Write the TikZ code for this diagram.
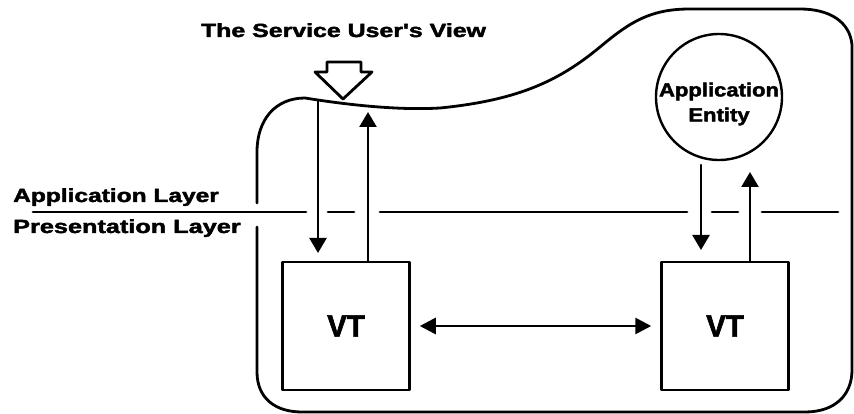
\documentclass[tikz,border=0pt]{standalone}
\usepackage{graphicx}
\usepackage{fontspec}
\setmainfont{Liberation Sans}
\newfontfamily\heavyfont[BoldFeatures={FakeBold=2}]{Liberation Sans}
\usetikzlibrary{arrows.meta}
\begin{document}
\begin{tikzpicture}[x=1pt,y=-1pt,line cap=round,line join=round,
  ink/.style={line width=2.8pt,black},
  vtbox/.style={draw,line width=2.5pt,minimum width=127pt,minimum height=128pt,inner sep=0pt,
    font=\heavyfont\bfseries\fontsize{31}{31}\selectfont},
  flow/.style={line width=2.4pt,-{Triangle[length=15pt,width=17pt]}},
  twoway/.style={line width=2.8pt,{Triangle[length=16pt,width=16pt]}-{Triangle[length=16pt,width=16pt]}},
  lbl/.style={font=\heavyfont\bfseries\fontsize{19}{19}\selectfont,inner sep=0pt},
  entity/.style={draw,circle,line width=2.4pt,minimum size=126pt,inner sep=0pt}]
\useasboundingbox (0,0) rectangle (854,414);

% boundary of the service user's view
\draw[ink] (257,227) -- (257,372) .. controls (257,398) and (275,412) .. (302,412)
  -- (805,412) .. controls (835,412) and (852,395) .. (852,370)
  -- (852,45) .. controls (850,22) and (830,9) .. (800,9)
  -- (690,9) .. controls (650,9) and (630,22) .. (600,47)
  .. controls (560,80) and (520,100) .. (440,108)
  .. controls (390,111) and (330,102) .. (305,98)
  .. controls (275,98) and (257,120) .. (257,152) -- (257,203);

% title and hollow arrow
\node[lbl,anchor=base] (title) at (343.5,37) {\scalebox{1.31}[1]{The Service User's View}};
\draw[line width=2.8pt,fill=white] (327,62) -- (361,62) -- (361,72) -- (372,72)
  -- (343,99) -- (315,72) -- (327,72) -- cycle;

% layer line and labels
\node[lbl,anchor=base west] (applayer) at (13,202) {\scalebox{1.29}[1]{Application Layer}};
\node[lbl,anchor=base west] (preslayer) at (13,233) {\scalebox{1.33}[1]{Presentation Layer}};
\draw[ink] (33,212) -- (306,212);
\draw[ink] (328,212) -- (354,212);
\draw[ink] (380,212) -- (687,212);
\draw[ink] (712,212) -- (738,212);
\draw[ink] (762,212) -- (838,212);

% nodes
\node[vtbox] (leftvt) at (346,326) {\scalebox{0.95}[1]{VT}};
\node[vtbox] (rightvt) at (725,326) {\scalebox{0.95}[1]{VT}};
\node[entity] (ae) at (719,97) {};
\node[lbl,align=center,font=\heavyfont\bfseries\fontsize{19}{25}\selectfont] (aetext) at (719,104)
  {\scalebox{1.16}[1]{Application}\\\scalebox{1.16}[1]{Entity}};

% connectors
\coordinate (userin) at (318,100);
\coordinate (tipLdown) at (318,253);
\coordinate (tipLup) at (368,112);
\coordinate (aeout) at (701,165);
\coordinate (tipRdown) at (701,250);
\coordinate (tipRup) at (750,172);
\draw[flow] (userin) -- (tipLdown);
\draw[flow] (tipLup |- leftvt.north) -- (tipLup);
\draw[flow] (aeout) -- (tipRdown);
\draw[flow] (tipRup |- rightvt.north) -- (tipRup);
\draw[twoway,shorten <=9pt,shorten >=9pt] (leftvt.east) -- (rightvt.west);
\end{tikzpicture}
\end{document}
